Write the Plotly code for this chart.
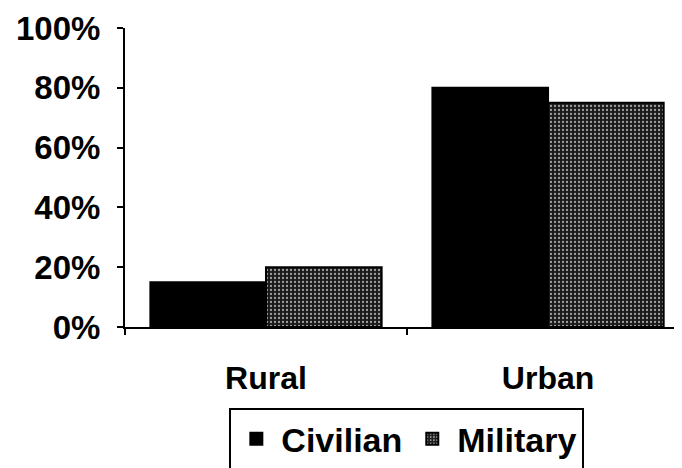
import plotly.graph_objects as go

categories = ["Rural", "Urban"]
civilian = [15, 80]
military = [20, 75]
y_ticks = [0, 20, 40, 60, 80, 100]
y_tick_labels = ["0%", "20%", "40%", "60%", "80%", "100%"]

FONT = "Liberation Sans, Arial, sans-serif"

fig = go.Figure()
fig.add_trace(go.Bar(
    x=categories, y=civilian, name="Civilian",
    marker=dict(color="black", line=dict(color="black", width=2)),
))
fig.add_trace(go.Bar(
    x=categories, y=military, name="Military",
    marker=dict(
        color="#1e1e1e",
        line=dict(color="black", width=2),
        pattern=dict(shape=".", fgcolor="#a0a0a0", bgcolor="#1a1a1a",
                     size=4, solidity=0.25, fillmode="replace"),
    ),
))

fig.update_layout(
    width=682, height=468,
    margin=dict(l=117, r=8, t=20, b=149, autoexpand=False),
    paper_bgcolor="white", plot_bgcolor="white",
    barmode="group", bargap=0.18, bargroupgap=0,
    font=dict(family=FONT, color="black", size=30),
    showlegend=True,
    legend=dict(
        orientation="h", x=0.506, xanchor="center", y=-0.271, yanchor="top",
        bordercolor="black", borderwidth=2, bgcolor="white",
        font=dict(family=FONT, size=34, color="black", weight="bold"),
        itemwidth=40, tracegroupgap=0,
    ),
    xaxis=dict(
        range=[-0.5, 1.475], showline=True, linecolor="black", linewidth=2,
        ticks="outside", tickson="boundaries", ticklen=6, tickwidth=2,
        tickcolor="black", showgrid=False, zeroline=False, automargin=False,
        tickfont=dict(family=FONT, size=32, color="black", weight="bold"),
        ticklabelstandoff=22,
    ),
    yaxis=dict(
        range=[0, 100], tickvals=y_ticks, ticktext=y_tick_labels,
        showline=True, linecolor="black", linewidth=2,
        ticks="outside", ticklen=6, tickwidth=2, tickcolor="black",
        showgrid=False, zeroline=False, automargin=False,
        tickfont=dict(family=FONT, size=33, color="black", weight="bold"),
        ticklabelstandoff=10,
    ),
)

fig.write_html("out.html")
